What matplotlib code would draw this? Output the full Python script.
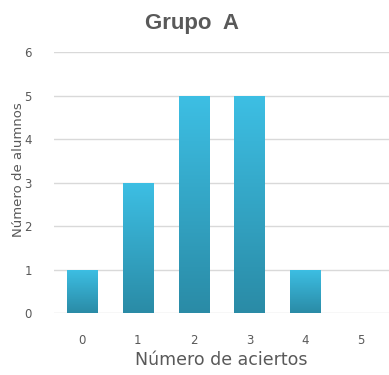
import numpy as np
import matplotlib.pyplot as plt
from matplotlib.colors import LinearSegmentedColormap

aciertos = [0, 1, 2, 3, 4, 5]
alumnos = [1, 3, 5, 5, 1, 0]
yticks = [0, 1, 2, 3, 4, 5, 6]

gris = '#595959'
degradado = LinearSegmentedColormap.from_list('barra', ['#2A8BA6', '#3DBFE4'])

fig = plt.figure(figsize=(3.89, 3.75), dpi=100)
ax = fig.add_axes([0.139, 0.165, 0.861, 0.696])

ancho = 0.54
grad = np.linspace(0, 1, 256).reshape(-1, 1)
for x, h in zip(aciertos, alumnos):
    if h <= 0:
        continue
    barra = ax.bar(x, h, width=ancho, color='none', edgecolor='none', zorder=3)[0]
    img = ax.imshow(grad, cmap=degradado, aspect='auto', origin='lower',
                    extent=[x - ancho / 2, x + ancho / 2, 0, h], zorder=3)
    img.set_clip_path(barra)

ax.set_xlim(-0.5, 5.5)
ax.set_ylim(0, 6)
ax.set_xticks(aciertos)
ax.set_yticks(yticks)
ax.grid(axis='y', color='#D9D9D9', linewidth=1, zorder=0)
ax.set_axisbelow(True)
for s in ax.spines.values():
    s.set_visible(False)
ax.tick_params(length=0, colors=gris, labelsize=8.5)
ax.tick_params(axis='y', pad=16)
ax.tick_params(axis='x', pad=15)

ax.set_xlabel('Número de aciertos', fontsize=12.5, color=gris, labelpad=3)
ax.set_ylabel('Número de alumnos', fontsize=9.5, color=gris)
ax.yaxis.set_label_coords(-0.088, 0.55)
fig.text(0.494, 0.938, 'Grupo  A', ha='center', va='center', fontsize=16,
         fontweight='bold', color=gris, family='Liberation Sans')

fig.savefig('out.png', dpi=100)
